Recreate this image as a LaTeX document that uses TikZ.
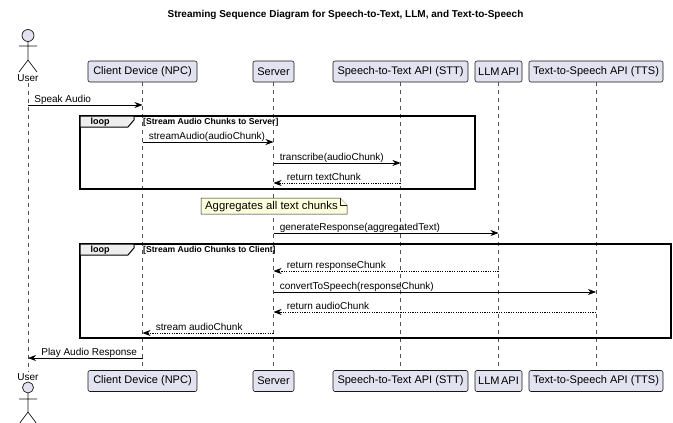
\documentclass[tikz,border=0pt]{standalone}
\usepackage{fontspec}
\setmainfont{Liberation Sans}
\usepackage{xcolor}
\usepackage{tikz}
\usetikzlibrary{positioning, shapes.geometric, arrows.meta}
\usetikzlibrary{calc}
\definecolor{partfill}{HTML}{E2E2F0}
\definecolor{partline}{HTML}{181818}
\definecolor{notefill}{HTML}{FEFFDD}
\definecolor{tabfill}{HTML}{EEEEEE}
\tikzstyle{participant} = [rectangle, rounded corners=2pt, minimum height=21pt, inner xsep=2pt, text centered, draw=partline, fill=partfill, line width=0.6pt, font=\fontsize{11}{13}\selectfont]
\tikzstyle{actortext} = [inner sep=1pt, font=\fontsize{10}{12}\selectfont]
\tikzstyle{actor} = [draw=partline, line width=0.7pt]
\tikzstyle{lifeline} = [draw=partline!75, dash pattern=on 4pt off 4pt, line width=0.5pt]
\tikzstyle{msg} = [line width=0.7pt, -{Stealth[length=8pt,width=6pt,inset=2.5pt]}]
\tikzstyle{ret} = [msg, dash pattern=on 1.2pt off 1.2pt]
\tikzstyle{msgtext} = [anchor=base west, inner sep=0pt, xshift=6pt, yshift=2.5pt, font=\fontsize{10}{12}\selectfont]
\tikzstyle{frame} = [draw=black, line width=1.2pt]
\tikzstyle{tab} = [draw=black, line width=1pt, fill=tabfill]
\tikzstyle{looptext} = [anchor=base, inner sep=0pt, font=\bfseries\fontsize{9}{11}\selectfont]
\tikzstyle{cond} = [anchor=base west, inner sep=0pt, font=\bfseries\fontsize{8.6}{10}\selectfont]
\tikzstyle{note} = [draw=partline, fill=notefill, line width=0.5pt]
\tikzstyle{notetext} = [anchor=base west, inner sep=0pt, font=\fontsize{11.3}{13}\selectfont]
\tikzstyle{titletext} = [font=\bfseries\fontsize{10}{12}\selectfont]

\begin{document}
\begin{tikzpicture}[x=1pt, y=-1pt, node distance=309.5pt]
		\useasboundingbox (0,0) rectangle (673,423);
		%标题
		\node (title) [titletext] at (345.5,14.5) {Streaming Sequence Diagram for Speech-to-Text, LLM, and Text-to-Speech};
		
		%上方参与者
		\node (user) [actortext] at (28,78) {User};
		\node (cli) [participant, minimum width=109pt] at (142.5,71.5) {Client Device (NPC)};
		\node (srv) [participant, minimum width=41pt] at (273.5,71.5) {Server};
		\node (stt) [participant, minimum width=135pt] at (400.5,71.5) {Speech-to-Text API (STT)};
		\node (llm) [participant, minimum width=47pt] at (498.5,71.5) {LLM\hspace{-1.5pt} API};
		\node (tts) [participant, minimum width=134pt] at (596,71.5) {Text-to-Speech API (TTS)};
		
		%下方参与者
		\node (user2) [actortext, below of=user, node distance=299pt] {User};
		\node (cli2) [participant, minimum width=109pt, below of=cli] {Client Device (NPC)};
		\node (srv2) [participant, minimum width=41pt, below of=srv] {Server};
		\node (stt2) [participant, minimum width=135pt, below of=stt] {Speech-to-Text API (STT)};
		\node (llm2) [participant, minimum width=47pt, below of=llm] {LLM\hspace{-1.5pt} API};
		\node (tts2) [participant, minimum width=134pt, below of=tts] {Text-to-Speech API (TTS)};
		
		%小人
		\draw [actor, fill=partfill] (28,35.5) circle (6pt);
		\draw [actor] (28,41.5) -- (28,60) (19,46) -- (37,46) (28,60) -- (19,72) (28,60) -- (37,72);
		\draw [actor, fill=partfill] (28,387.5) circle (5.5pt);
		\draw [actor] (28,393) -- (28,412) (19,399) -- (37,399) (28,412) -- (19,424) (28,412) -- (37,424);
		
		%生命线
		\draw [lifeline](user.south) -- (user2.north);
		\draw [lifeline](cli.south) -- (cli2.north);
		\draw [lifeline](srv.south) -- (srv2.north);
		\draw [lifeline](stt.south) -- (stt2.north);
		\draw [lifeline](llm.south) -- (llm2.north);
		\draw [lifeline](tts.south) -- (tts2.north);
		
		%消息所在的行
		\coordinate (r1) at (0,105);
		\coordinate (r2) at (0,142);
		\coordinate (r3) at (0,163);
		\coordinate (r4) at (0,183);
		\coordinate (r5) at (0,233);
		\coordinate (r6) at (0,271);
		\coordinate (r7) at (0,292);
		\coordinate (r8) at (0,312);
		\coordinate (r9) at (0,333);
		\coordinate (r10) at (0,358);
		
		%循环框
		\draw [frame] (80,116) rectangle (475,189);
		\draw [tab] (80,116) -- (134,116) -- (134,120) -- (128,127) -- (80,127) -- cycle;
		\node (loop1) [looptext] at (100,124.5) {loop};
		\node (cond1) [cond] at (143,124.5) {[Stream Audio Chunks to Server]};
		
		\draw [frame] (80,244) rectangle (671,338);
		\draw [tab] (80,244) -- (134,244) -- (134,248) -- (128,255) -- (80,255) -- cycle;
		\node (loop2) [looptext] at (100,252.5) {loop};
		\node (cond2) [cond] at (143,252.5) {[Stream Audio Chunks to Client]};
		
		%注释
		\draw [note] (201,198) -- (340,198) -- (347,205) -- (347,214) -- (201,214) -- cycle;
		\draw [note] (340,198) -- (340,205) -- (347,205);
		\node (note1) [notetext] at (205,209.5) {Aggregates all text chunks};
		
		%连接具体消息
		\draw [msg](user |- r1) node [msgtext] {Speak Audio} -- (cli |- r1);
		\draw [msg](cli |- r2) node [msgtext] {streamAudio(audioChunk)} -- (srv |- r2);
		\draw [msg](srv |- r3) node [msgtext] {transcribe(audioChunk)} -- (stt |- r3);
		\draw [ret](stt |- r4) -- (srv |- r4) node [msgtext, xshift=7pt] {return textChunk};
		\draw [msg](srv |- r5) node [msgtext] {generateResponse(aggregatedText)} -- (llm |- r5);
		\draw [ret](llm |- r6) -- (srv |- r6) node [msgtext, xshift=7pt] {return responseChunk};
		\draw [msg](srv |- r7) node [msgtext] {convertToSpeech(responseChunk)} -- (tts |- r7);
		\draw [ret](tts |- r8) -- (srv |- r8) node [msgtext, xshift=7pt] {return audioChunk};
		\draw [ret](srv |- r9) -- (cli |- r9) node [msgtext, xshift=7pt] {stream audioChunk};
		\draw [msg](cli |- r10) -- (user |- r10) node [msgtext, xshift=7pt] {Play Audio Response};
		
	\end{tikzpicture}
\end{document}
